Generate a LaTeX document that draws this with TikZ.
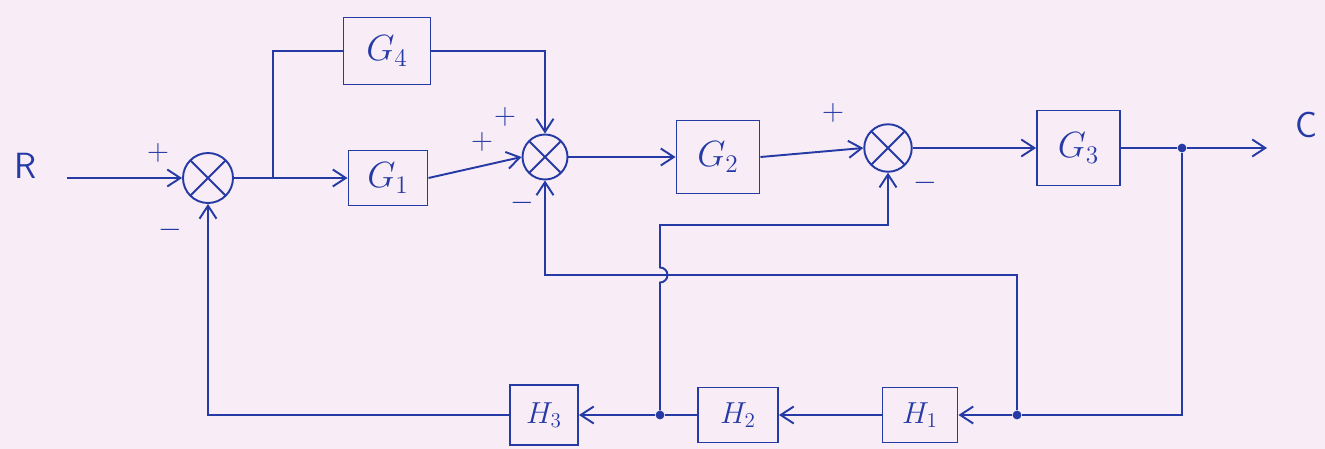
\documentclass[tikz,border=0pt]{standalone}
\usepackage{xcolor}
\usepackage{tikz}
\usetikzlibrary{arrows.meta,positioning,calc}
\definecolor{inkblue}{RGB}{38,58,165}
\definecolor{paperpink}{RGB}{248,237,246}

\begin{document}
\begin{tikzpicture}[
  blockbox/.style={draw=inkblue, line width=1.1pt, minimum width=1.66cm, minimum height=1.46cm, font=\huge, text=inkblue, inner sep=2pt},
  hblock/.style={blockbox, minimum width=1.5cm, minimum height=1.1cm, font=\LARGE},
  sumjn/.style={circle, draw=inkblue, line width=1.1pt, minimum size=0.95cm, inner sep=0pt,
    path picture={\draw[inkblue, line width=1.1pt] (path picture bounding box.north west) -- (path picture bounding box.south east)
      (path picture bounding box.north east) -- (path picture bounding box.south west);}},
  wire/.style={draw=inkblue, line width=1.1pt},
  sig/.style={wire, -{Straight Barb[length=2.6mm, width=3.4mm, line width=1.1pt]}},
  signlabel/.style={font=\LARGE, text=inkblue, inner sep=0pt},
  pinlabel/.style={font=\huge\sffamily, text=inkblue},
  joindot/.style={circle, fill=inkblue, inner sep=0pt, minimum size=5pt}
]
\fill[paperpink] (0,0) rectangle (26.5,-8.98);
\useasboundingbox (0,0) rectangle (26.5,-8.98);

\node[pinlabel] (lbl_r) at (0.52,-3.32) {R};
\coordinate (src) at (1.34,-3.56);
\node[sumjn, minimum size=1cm] (sum_a) at (4.16,-3.56) {};
\coordinate (br_a) at (5.46,-3.56);
\node[blockbox, minimum width=1.74cm, minimum height=1.34cm] (blk_g4) at (7.74,-1.02) {$G_4$};
\node[blockbox, minimum width=1.58cm, minimum height=1.1cm] (blk_g1) at (7.76,-3.56) {$G_1$};
\node[sumjn, minimum size=0.9cm] (sum_b) at (10.9,-3.14) {};
\node[blockbox] (blk_g2) at (14.36,-3.14) {$G_2$};
\node[sumjn] (sum_c) at (17.76,-2.96) {};
\node[blockbox, minimum height=1.5cm] (blk_g3) at (21.57,-2.96) {$G_3$};
\node[joindot] (br_out) at (23.64,-2.96) {};
\coordinate (sink) at (25.34,-2.96);
\node[pinlabel] (lbl_c) at (26.12,-2.5) {C};

\node[hblock] (blk_h1) at (18.4,-8.3) {$H_1$};
\node[hblock, minimum width=1.6cm] (blk_h2) at (14.76,-8.3) {$H_2$};
\node[hblock, minimum width=1.36cm, minimum height=1.2cm] (blk_h3) at (10.88,-8.3) {$H_3$};
\node[joindot] (br_c) at (20.34,-8.3) {};
\node[joindot] (br_h) at (13.2,-8.3) {};

\node[signlabel] (sg_a1) at (3.16,-3.06) {$+$};
\node[signlabel] (sg_a2) at (3.4,-4.6) {$-$};
\node[signlabel] (sg_b1) at (10.1,-2.34) {$+$};
\node[signlabel] (sg_b2) at (9.64,-2.84) {$+$};
\node[signlabel] (sg_b3) at (10.44,-4.06) {$-$};
\node[signlabel] (sg_c1) at (16.66,-2.26) {$+$};
\node[signlabel] (sg_c2) at (18.5,-3.66) {$-$};

\draw[sig] (src) -- (sum_a.west);
\draw[wire] (sum_a.east) -- (br_a);
\draw[sig] (br_a) -- (blk_g1.west);
\draw[wire] (br_a) |- (blk_g4.west);
\draw[sig] (blk_g4.east) -| (sum_b.north);
\draw[sig] (blk_g1.east) -- (sum_b.west);
\draw[sig] (sum_b.east) -- (blk_g2.west);
\draw[sig] (blk_g2.east) -- (sum_c.west);
\draw[sig] (sum_c.east) -- (blk_g3.west);
\draw[wire] (blk_g3.east) -- (br_out);
\draw[sig] (br_out) -- (sink);

\draw[wire] (br_out) |- (br_c);
\draw[sig] (br_c) -- (blk_h1.east);
\draw[sig] (blk_h1.west) -- (blk_h2.east);
\draw[wire] (blk_h2.west) -- (br_h);
\draw[sig] (br_h) -- (blk_h3.east);
\draw[sig] (blk_h3.west) -| (sum_a.south);

\draw[sig] (br_c) -- ++(0,2.8) -| (sum_b.south);
\draw[sig] (br_h) -- ++(0,2.65) arc[start angle=-90, end angle=90, radius=0.15]
  -- ++(0,0.85) -| (sum_c.south);
\end{tikzpicture}
\end{document}
